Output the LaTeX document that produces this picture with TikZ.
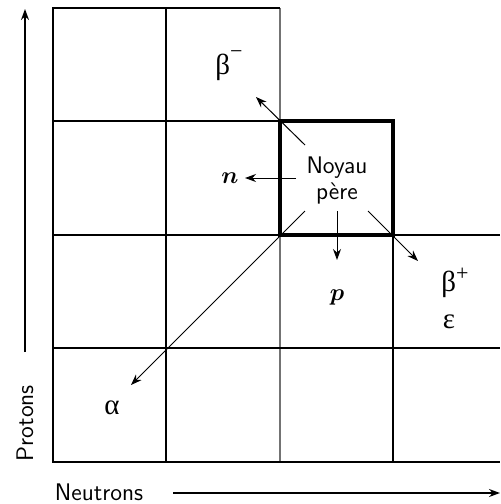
\documentclass[tikz,border=0pt]{standalone}
\usepackage{amsmath}
\usepackage{fontspec}
\newfontfamily\grk{Liberation Serif}
\usetikzlibrary{arrows.meta}
\begin{document}
\begin{tikzpicture}[x=0.5pt,y=-0.5pt,
  grid/.style={line width=1pt,black},
  thin gray/.style={line width=0.75pt,black!55},
  boxline/.style={line width=1.8pt,black},
  decay/.style={line width=0.5pt,-{Stealth[length=5.5pt,width=4pt]}},
  axis/.style={line width=0.8pt,-{Stealth[length=5.5pt,width=4pt]}},
  lab/.style={font=\fontsize{12}{14}\selectfont\sffamily,inner sep=1pt},
  glab/.style={font=\fontsize{14.5}{16}\selectfont\grk,inner sep=1pt}]
\useasboundingbox (0,0) rectangle (500,504);
% grid
\draw[thin gray] (280,8) -- (280,462);
\draw[grid] (280,8) -- (53,8) -- (53,462) -- (500,462);
\draw[grid] (166,8) -- (166,462);
\draw[grid] (393,235) -- (393,462);
\draw[grid] (53,121) -- (280,121);
\draw[grid] (53,235) -- (500,235);
\draw[grid] (53,348) -- (500,348);
\draw[boxline] (280,121) rectangle (393,235);
% labels
\node[lab,align=center] (noyau) at (337,180) {Noyau\\[-1pt]père};
\node[glab] (bm) at (229,66) {β\raisebox{0.55em}{\fontsize{11}{12}\selectfont −}};
\node[lab] (n) at (230,178) {$\boldsymbol{n}$};
\node[lab] (p) at (337,297) {$\boldsymbol{p}$};
\node[glab] (bp) at (455,283) {β\raisebox{0.4em}{\fontsize{11}{12}\selectfont +}};
\node[glab] (eps) at (449,322) {ε};
\node[glab] (alpha) at (112,408) {α};
% arrow coordinates
\coordinate (bmS) at (305,145); \coordinate (bmE) at (256,97);
\coordinate (nS) at (296,178); \coordinate (nE) at (245,178);
\coordinate (pS) at (337,211); \coordinate (pE) at (337,260);
\coordinate (bpS) at (368,211); \coordinate (bpE) at (418,261);
\coordinate (aS) at (305,211); \coordinate (aE) at (131,385);
\draw[decay] (bmS) -- (bmE);
\draw[decay] (nS) -- (nE);
\draw[decay] (pS) -- (pE);
\draw[decay] (bpS) -- (bpE);
\draw[decay] (aS) -- (aE);
% axes
\coordinate (vS) at (25,352); \coordinate (vE) at (25,9);
\coordinate (hS) at (173,493); \coordinate (hE) at (500,493);
\draw[axis] (vS) -- (vE);
\draw[axis] (hS) -- (hE);
\node[lab,rotate=90] (protons) at (25,423) {Protons};
\node[lab] (neutrons) at (99,492) {Neutrons};
\end{tikzpicture}
\end{document}
